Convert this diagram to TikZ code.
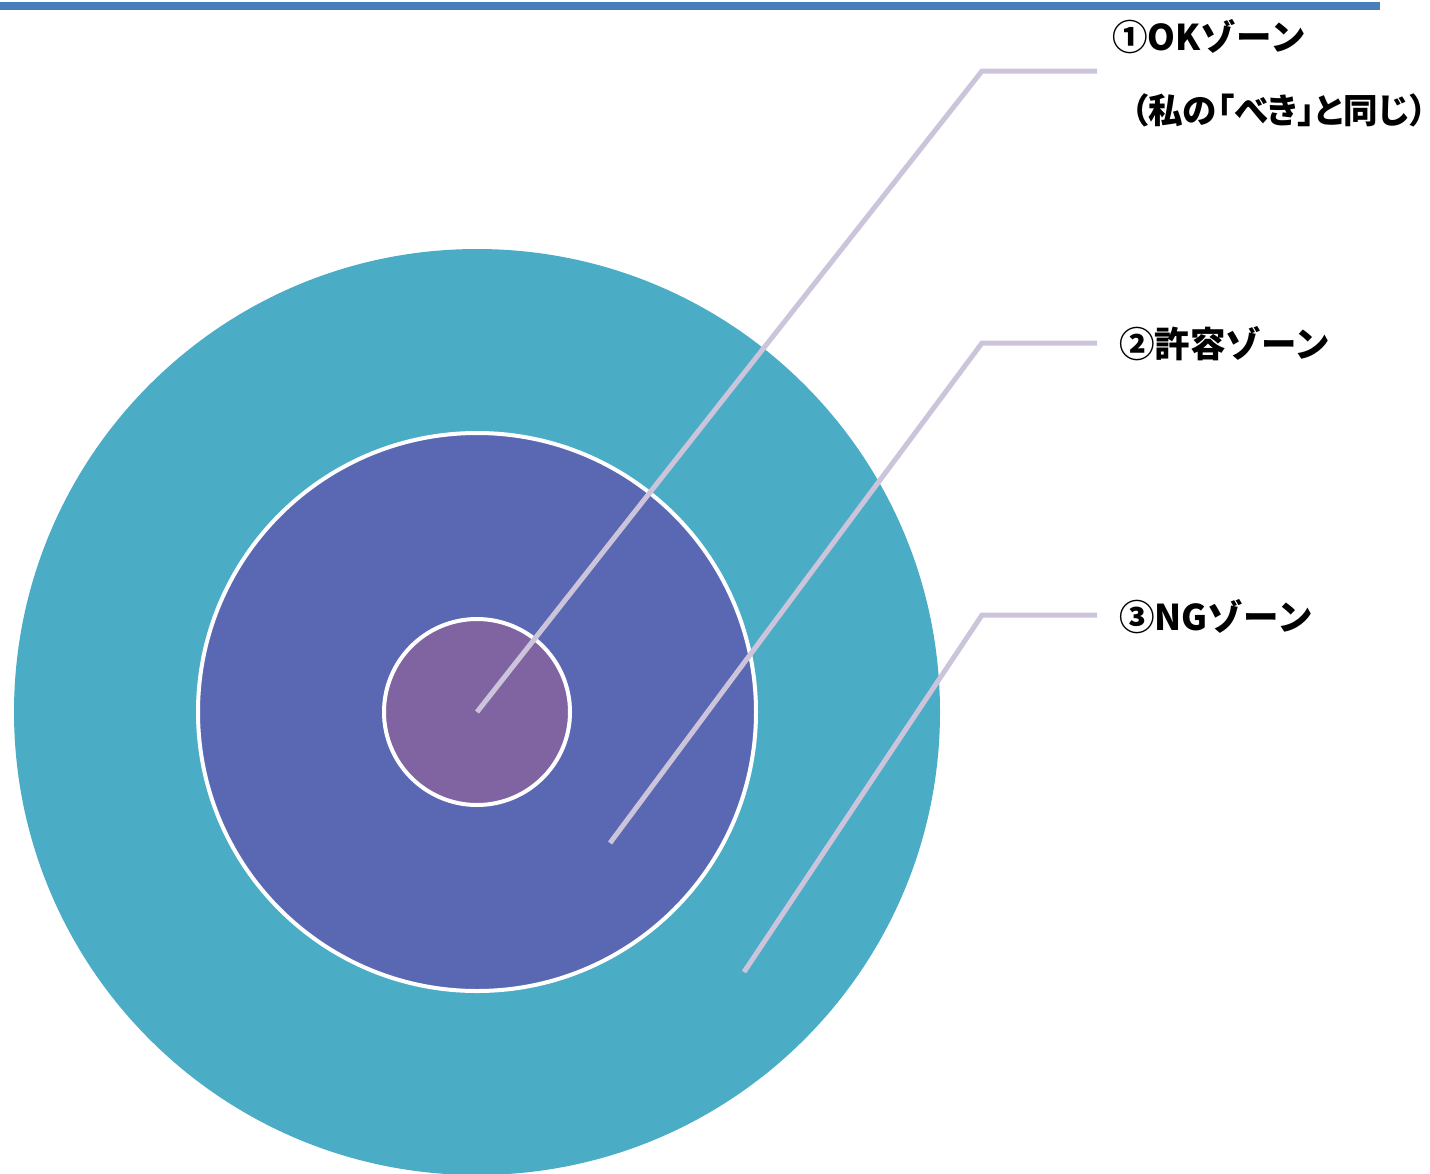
\documentclass[tikz,border=0pt]{standalone}
\usepackage{fontspec}
\setmainfont{Noto Sans CJK JP}
\newfontfamily\jpprop[RawFeature=+palt]{Noto Sans CJK JP}
\begin{document}
\begin{tikzpicture}[x=1pt,y=-1pt,
  leader/.style={draw=leadc,line width=5pt},
  lbl/.style={anchor=base west,inner sep=0pt,font=\fontsize{35.5}{42}\selectfont\bfseries,text=black}]
\definecolor{outerc}{HTML}{4BACC6}
\definecolor{midc}{HTML}{5A67B2}
\definecolor{innerc}{HTML}{8064A2}
\definecolor{leadc}{HTML}{CCC4DA}
\definecolor{topc}{HTML}{4A7EBB}
\useasboundingbox (0,0) rectangle (1430,1173);
\fill[topc] (0,2) rectangle (1380,10);
\coordinate (c) at (477,712);
\fill[outerc] (c) circle (463);
\filldraw[fill=midc,draw=white,line width=4pt] (c) circle (279);
\filldraw[fill=innerc,draw=white,line width=4pt] (c) circle (93);
\coordinate (a1) at (477,712);
\coordinate (b1) at (982,71);
\coordinate (e1) at (1097,71);
\coordinate (a2) at (610,843);
\coordinate (b2) at (982,343);
\coordinate (e2) at (1097,343);
\coordinate (a3) at (744,972);
\coordinate (b3) at (982,615);
\coordinate (e3) at (1097,615);
\draw[leader] (a1) -- (b1) -- (e1);
\draw[leader] (a2) -- (b2) -- (e2);
\draw[leader] (a3) -- (b3) -- (e3);
\node[lbl] (t1) at (1112,50) {①OKゾーン};
\node[lbl,anchor=base east,font=\fontsize{34.5}{41}\selectfont\bfseries] (t1b) at (1427,123) {\jpprop\bfseries （私の「べき」と同じ）};
\node[lbl] (t2) at (1119,357) {②許容ゾーン};
\node[lbl] (t3) at (1119,630) {③NGゾーン};
\end{tikzpicture}
\end{document}
